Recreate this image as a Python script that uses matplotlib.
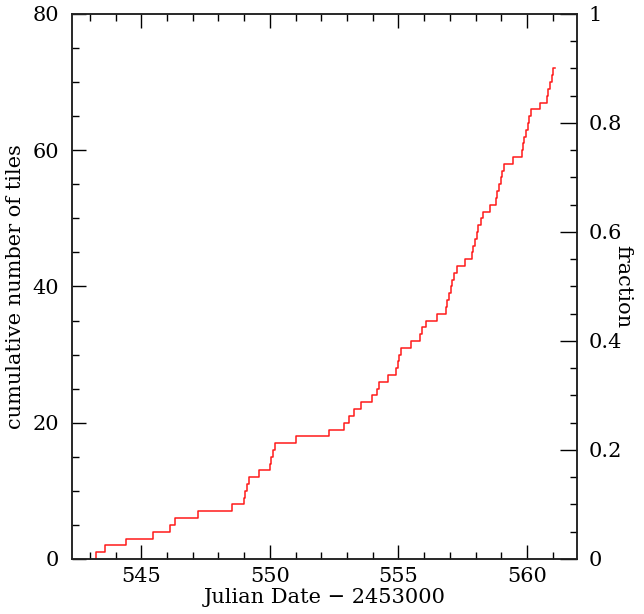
import numpy as np
import matplotlib
matplotlib.use("Agg")
import matplotlib.pyplot as plt
from matplotlib.ticker import MultipleLocator

# times (JD - 2453000) at which each tile was completed
tile_times = [
    543.25, 543.60, 544.42, 545.45, 546.13, 546.32, 547.22, 548.52,
    548.98, 549.05, 549.11, 549.17, 549.56, 549.99, 550.05, 550.12,
    550.18, 551.01, 552.31, 552.89, 553.07, 553.27, 553.56, 553.99,
    554.18, 554.26, 554.60, 554.91, 554.98, 555.04, 555.10, 555.48,
    555.84, 555.90, 556.08, 556.52, 556.84, 556.90, 556.97, 557.03,
    557.09, 557.17, 557.27, 557.58, 557.86, 557.92, 557.98, 558.05,
    558.11, 558.20, 558.28, 558.56, 558.79, 558.85, 558.91, 558.98,
    559.04, 559.12, 559.46, 559.79, 559.83, 559.90, 559.96, 560.03,
    560.09, 560.16, 560.52, 560.77, 560.83, 560.90, 560.96, 561.02,
]
end_time = 561.09
total_tiles = 80

x = [tile_times[0]] + tile_times + [end_time]
y = [0] + list(range(1, len(tile_times) + 1)) + [len(tile_times)]

plt.rcParams['font.family'] = ['DejaVu Serif']
plt.rcParams['font.size'] = 15

fig = plt.figure(figsize=(6.44, 6.14), dpi=100)
ax = fig.add_axes([0.1118, 0.0896, 0.7842, 0.8876])

ax.step(x, y, where='post', color='#ff1a1a', lw=1.1)

ax.set_xlim(542.3, 561.95)
ax.set_ylim(0, 80)
ax.xaxis.set_major_locator(MultipleLocator(5))
ax.xaxis.set_minor_locator(MultipleLocator(1))
ax.yaxis.set_major_locator(MultipleLocator(20))
ax.yaxis.set_minor_locator(MultipleLocator(5))
ax.tick_params(which='both', direction='in', top=True, right=False)
ax.tick_params(which='major', length=10, width=1)
ax.tick_params(which='minor', length=5, width=1)
ax.tick_params(axis='x', pad=6)
ax.tick_params(axis='y', pad=9)

ax.set_xlabel('Julian Date \u2212 2453000', labelpad=1)
ax.set_ylabel('cumulative number of tiles', labelpad=6)

ax2 = ax.twinx()
ax2.set_ylim(0, 80 / total_tiles)
ax2.yaxis.set_major_locator(MultipleLocator(0.2))
ax2.yaxis.set_minor_locator(MultipleLocator(0.05))
ax2.yaxis.set_major_formatter(plt.FuncFormatter(lambda v, p: f'{v:g}'))
ax2.tick_params(which='both', direction='in')
ax2.tick_params(which='major', length=12, width=1, pad=8)
ax2.tick_params(which='minor', length=5, width=1)
ax2.set_ylabel('fraction', rotation=270, labelpad=8)

for a in (ax, ax2):
    for s in a.spines.values():
        s.set_linewidth(1.1)
        s.set_color('#222222')

fig.savefig('out.png', dpi=100)
